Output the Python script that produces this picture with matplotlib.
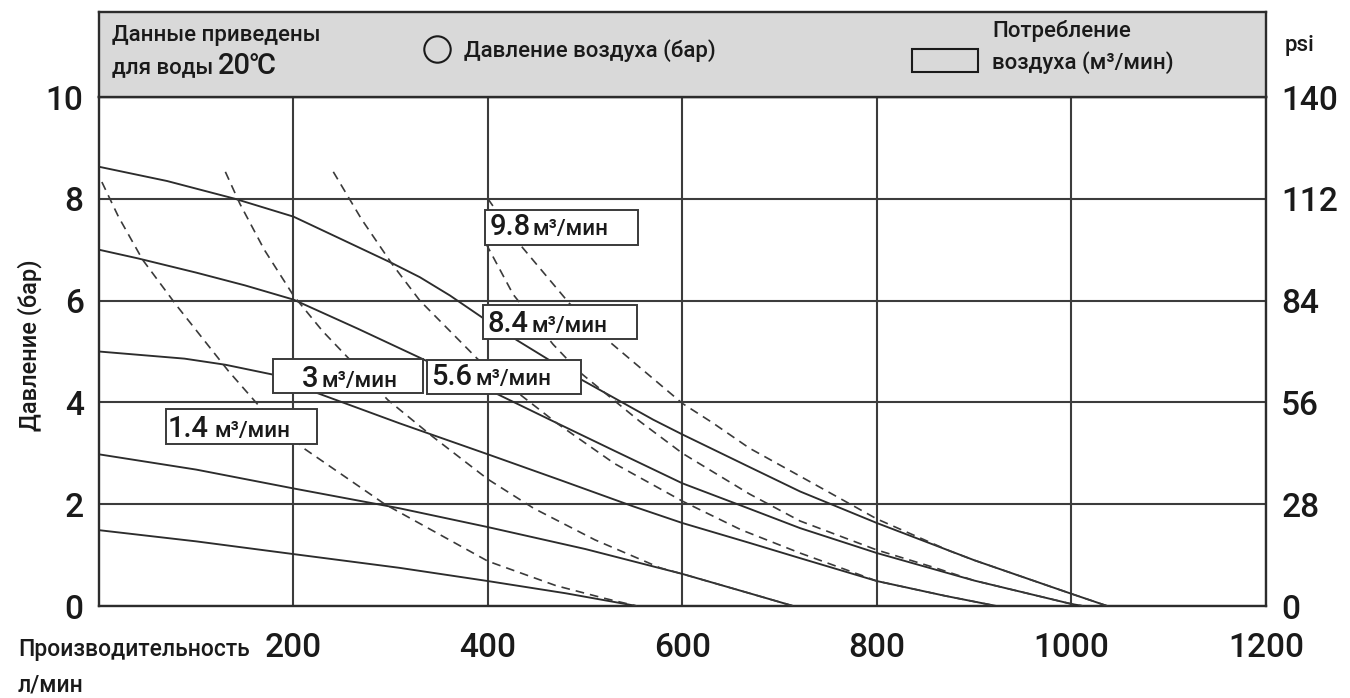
import matplotlib
matplotlib.use('Agg')
import matplotlib.pyplot as plt
from matplotlib.patches import Rectangle

plt.rcParams['font.family'] = ['Roboto', 'DejaVu Sans']
plt.rcParams['font.weight'] = 'medium'

# pump curves at constant air pressure (bar): flow l/min -> head bar
p86_q = [0, 70, 140, 200, 250, 301, 330, 361, 394, 430, 494, 570, 600, 669, 721, 800, 900, 1000, 1037]
p86_h = [8.63, 8.35, 8.0, 7.65, 7.2, 6.74, 6.46, 6.1, 5.67, 5.22, 4.47, 3.66, 3.37, 2.73, 2.25, 1.63, 0.9, 0.24, 0.0]
p7_q = [0, 40, 100, 150, 200, 266, 332, 410, 467, 530, 600, 669, 721, 800, 900, 1000, 1012]
p7_h = [7.0, 6.83, 6.55, 6.3, 6.02, 5.45, 4.86, 4.16, 3.63, 3.05, 2.41, 1.91, 1.53, 1.04, 0.5, 0.04, 0.0]
p5_q = [0, 88, 130, 178, 225, 309, 400, 475, 549, 600, 669, 721, 800, 870, 923]
p5_h = [5.0, 4.86, 4.74, 4.55, 4.18, 3.59, 2.98, 2.47, 1.96, 1.63, 1.24, 0.94, 0.49, 0.2, 0.0]
p3_q = [0, 100, 200, 309, 400, 500, 600, 669, 714]
p3_h = [2.98, 2.68, 2.31, 1.92, 1.55, 1.12, 0.63, 0.25, 0.0]
p15_q = [0, 100, 200, 309, 400, 480, 553]
p15_h = [1.49, 1.27, 1.02, 0.75, 0.49, 0.25, 0.0]

# air consumption lines (m3/min)
a14_q = [3, 20, 45, 80, 133, 166, 212, 294, 400, 470, 520, 553]
a14_h = [8.33, 7.65, 6.8, 5.9, 4.62, 3.9, 3.08, 2.0, 0.88, 0.4, 0.15, 0.0]
a3_q = [130, 145, 170, 200, 230, 260, 297, 343, 400, 447, 510, 577, 600, 669, 714]
a3_h = [8.53, 7.9, 7.0, 6.1, 5.4, 4.8, 4.05, 3.33, 2.49, 1.92, 1.3, 0.75, 0.63, 0.25, 0.0]
a56_q = [241, 270, 301, 330, 389, 430, 471, 530, 600, 660, 721, 770, 800, 870, 923]
a56_h = [8.53, 7.6, 6.73, 6.0, 4.86, 4.2, 3.59, 2.8, 2.06, 1.5, 1.04, 0.7, 0.49, 0.2, 0.0]
a84_q = [398, 426, 467, 494, 522, 556, 600, 669, 721, 800, 860, 900, 1000, 1012]
a84_h = [7.12, 6.12, 5.14, 4.6, 4.16, 3.63, 3.0, 2.2, 1.67, 1.1, 0.75, 0.5, 0.04, 0.0]
a98_q = [400, 433, 484, 522, 600, 631, 669, 721, 800, 875, 900, 1000, 1037]
a98_h = [8.0, 7.1, 5.94, 5.24, 3.98, 3.6, 3.1, 2.55, 1.71, 1.08, 0.9, 0.24, 0.0]

air_labels = ['1.4', '3', '5.6', '8.4', '9.8']
x_ticks = [200, 400, 600, 800, 1000, 1200]
bar_ticks = [0, 2, 4, 6, 8, 10]
psi_ticks = [0, 28, 56, 84, 112, 140]

ink = '#2c2c2c'
txt = '#1a1a1a'
fig = plt.figure(figsize=(13.5, 6.98), dpi=100)
ax = fig.add_axes([0.0733, 0.1318, 0.8644, 0.7292])

for q, h in [(p86_q, p86_h), (p7_q, p7_h), (p5_q, p5_h), (p3_q, p3_h), (p15_q, p15_h)]:
    ax.plot(q, h, color=ink, lw=1.35, zorder=3)
for q, h in [(a14_q, a14_h), (a3_q, a3_h), (a56_q, a56_h), (a84_q, a84_h), (a98_q, a98_h)]:
    ax.plot(q, h, color='#3a3a3a', lw=1.2, dashes=(5.2, 3.6), zorder=3)

ax.set_xlim(0, 1200)
ax.set_ylim(0, 10)
ax.set_xticks(x_ticks)
ax.set_yticks(bar_ticks)
ax.grid(True, color='#3c3c3c', lw=1.5, zorder=1)
ax.set_axisbelow(True)
ax.tick_params(length=0, labelsize=24, labelcolor=txt)
ax.tick_params(axis='x', pad=19)
ax.tick_params(axis='y', pad=11)
for s in ax.spines.values():
    s.set_color(ink)
    s.set_linewidth(1.7)

tw = ax.twinx()
tw.set_ylim(0, 140)
tw.set_yticks(psi_ticks)
tw.tick_params(length=0, labelsize=24, pad=11, labelcolor=txt)
for s in tw.spines.values():
    s.set_visible(False)

# label boxes: (x0, x1, y0, y1, number x, unit x, baseline)
boxes = [
    (69, 224, 3.18, 3.88, 71, 119, 3.33),
    (179, 333, 4.18, 4.86, 209, 229, 4.31),
    (337, 496, 4.16, 4.84, 342, 387, 4.35),
    (395, 553, 5.24, 5.92, 400, 445, 5.39),
    (397, 554, 7.10, 7.78, 402, 446, 7.29),
]
for lab, (x0, x1, y0, y1, xn, xu, yb) in zip(air_labels, boxes):
    ax.add_patch(Rectangle((x0, y0), x1 - x0, y1 - y0, facecolor='white',
                           edgecolor='#3a3a3a', lw=1.4, zorder=5))
    ax.text(xn, yb, lab, fontsize=21, va='baseline', ha='left', color=txt, zorder=6)
    ax.text(xu, yb, 'м³/мин', fontsize=16, va='baseline', ha='left', color=txt, zorder=6)

# header strip
hdr = fig.add_axes([0.0733, 0.861, 0.8644, 0.1218])
hdr.set_facecolor('#d9d9d9')
hdr.set_xlim(0, 1)
hdr.set_ylim(0, 1)
hdr.set_xticks([])
hdr.set_yticks([])
for s in hdr.spines.values():
    s.set_color(ink)
    s.set_linewidth(1.7)
hdr.text(0.011, 0.72, 'Данные приведены', fontsize=16, va='center', color=txt)
hdr.text(0.011, 0.34, 'для воды', fontsize=16, va='center', color=txt)
hdr.text(0.102, 0.37, '20℃', fontsize=21, va='center', color=txt)
hdr.plot([0.2896], [0.56], marker='o', ms=19, mfc='none', mec=txt, mew=1.5)
hdr.text(0.3128, 0.55, 'Давление воздуха (бар)', fontsize=16, va='center', color=txt)
hdr.add_patch(Rectangle((0.6967, 0.294), 0.0565, 0.271, facecolor='#d9d9d9',
                        edgecolor=txt, lw=1.5))
hdr.text(0.7652, 0.78, 'Потребление', fontsize=16, va='center', color=txt)
hdr.text(0.7652, 0.40, 'воздуха (м³/мин)', fontsize=16, va='center', color=txt)

fig.text(0.963, 0.9355, 'psi', fontsize=16, ha='center', va='center', color=txt)
fig.text(0.022, 0.506, 'Давление (бар)', fontsize=17, rotation=90, ha='center', va='center', color=txt)
fig.text(0.0133, 0.0688, 'Производительность', fontsize=16.5, ha='left', va='center', color=txt)
fig.text(0.0133, 0.0186, 'л/мин', fontsize=16.5, ha='left', va='center', color=txt)

fig.savefig('out.png', dpi=100)
